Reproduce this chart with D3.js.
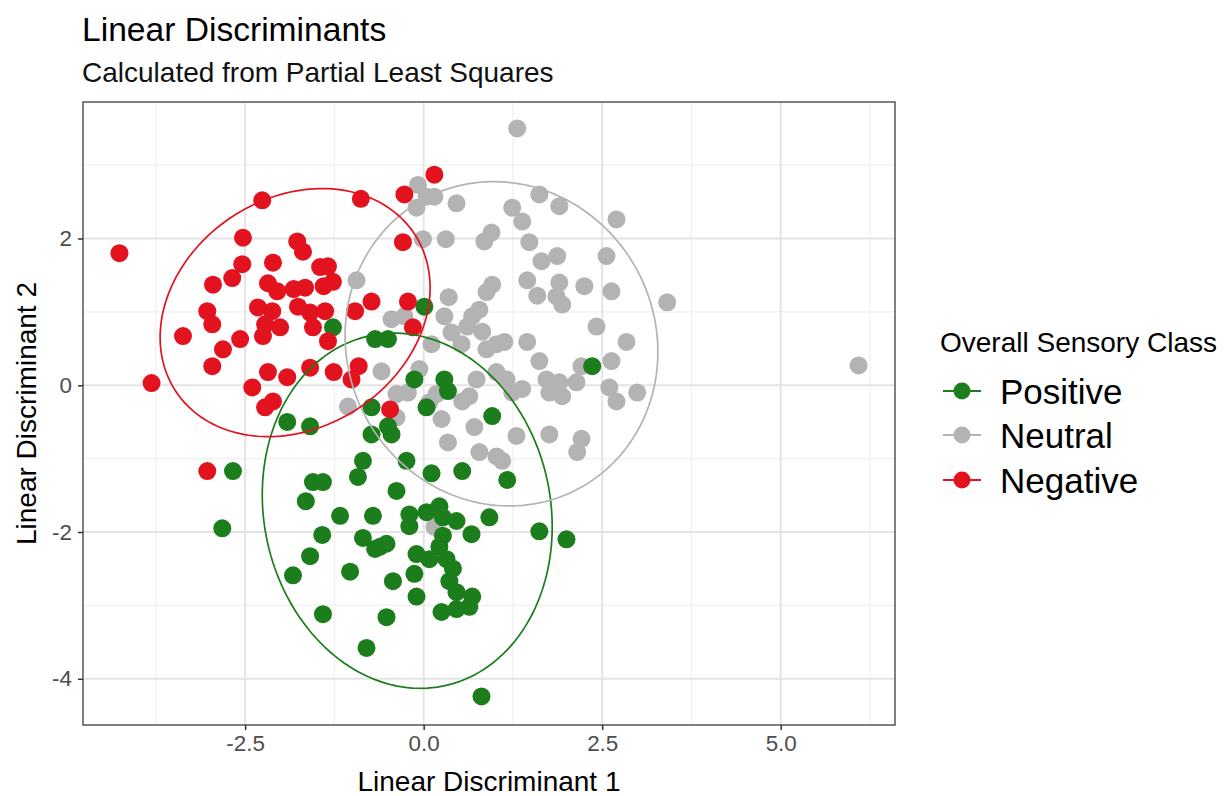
<!DOCTYPE html>
<html>
<head>
<meta charset="utf-8">
<script src="https://cdn.jsdelivr.net/npm/d3@7"></script>
<style>
body { margin: 0; background: #fff; }
text { font-family: "Liberation Sans", Arial, sans-serif; }
</style>
</head>
<body>
<div id="chart"></div>
<script>
var classes = ["Positive", "Neutral", "Negative"];
var classColors = ["#1b7d1b", "#b3b3b3", "#e3121f"];

var positiveX = [-1.27,-0.68,-0.50,0.01,-1.91,-1.59,-0.73,-0.73,-0.85,-2.67,
  -0.13,0.29,0.34,0.04,-0.50,-0.45,0.96,2.36,-0.24,-0.92,
  0.11,0.54,1.17,-2.82,-1.41,-1.55,-1.65,-1.17,-0.71,-1.42,
  -0.85,-0.68,-1.59,-1.83,-1.03,-1.41,-0.80,-0.38,-0.20,-0.20,
  0.04,0.22,0.27,0.46,0.92,0.67,1.62,2.00,-0.61,-0.52,
  0.27,0.22,-0.10,0.08,0.32,-0.13,-0.43,0.41,0.36,0.46,
  0.68,0.64,0.46,0.25,-0.10,-0.52,0.81];
var positiveY = [0.79,0.63,0.63,1.07,-0.50,-0.56,-0.30,-0.67,-1.03,-1.17,
  0.08,0.08,-0.08,-0.30,-0.56,-0.67,-0.42,0.26,-1.03,-1.25,
  -1.20,-1.17,-1.29,-1.95,-1.32,-1.32,-1.58,-1.78,-1.78,-2.04,
  -2.08,-2.23,-2.33,-2.59,-2.54,-3.12,-3.58,-1.44,-1.76,-1.92,
  -1.73,-1.65,-1.80,-1.85,-1.80,-2.03,-1.99,-2.10,-2.20,-2.16,
  -2.05,-2.20,-2.30,-2.37,-2.37,-2.57,-2.67,-2.50,-2.67,-2.82,
  -2.88,-3.02,-3.05,-3.09,-2.88,-3.16,-4.24];

var neutralX = [1.31,-0.08,0.04,0.15,-0.10,0.46,1.62,1.90,2.70,1.24,
  1.38,-0.01,0.31,0.85,0.95,1.48,1.65,1.87,2.56,-0.94,
  1.45,1.90,2.25,2.63,0.96,0.88,0.35,1.59,3.41,1.86,
  1.94,0.29,0.68,0.78,0.61,0.82,0.39,0.53,-0.45,-0.27,
  0.11,0.88,1.02,1.13,1.45,2.42,2.84,1.62,2.21,2.63,
  -0.06,-0.59,0.74,1.02,1.16,1.24,1.38,1.72,1.90,1.94,
  1.76,2.14,2.60,2.70,2.99,6.09,-0.38,-0.22,-1.06,0.18,
  0.08,0.64,0.54,0.25,0.34,0.71,0.78,1.30,1.76,2.21,
  2.15,1.02,1.10,-0.38,0.15];
var neutralY = [3.50,2.73,2.57,2.57,2.42,2.48,2.60,2.44,2.26,2.42,
  2.23,1.99,1.99,1.96,2.08,1.95,1.69,1.76,1.76,1.43,
  1.43,1.40,1.35,1.28,1.37,1.27,1.20,1.22,1.13,1.21,
  1.10,0.94,0.94,1.03,0.80,0.73,0.72,0.56,0.90,0.94,
  0.56,0.49,0.56,0.59,0.59,0.80,0.59,0.33,0.26,0.33,
  0.22,0.19,0.08,0.18,0.08,-0.10,-0.05,0.08,0.04,-0.15,
  -0.10,0.04,-0.03,-0.22,-0.10,0.27,-0.12,-0.10,-0.29,-0.12,
  -0.23,-0.15,-0.22,-0.46,-0.78,-0.57,-0.91,-0.69,-0.67,-0.73,
  -0.91,-0.97,-1.03,-0.44,-1.93];

var negativeX = [-4.26,-2.26,-0.88,-2.53,-1.77,-1.69,-2.54,-2.68,-2.95,-2.11,
  -2.18,-2.05,-1.45,-1.34,-1.27,-1.40,-1.66,-1.82,-0.73,0.15,
  -0.27,-0.29,-0.22,-0.15,-3.03,-2.96,-3.37,-2.81,-2.57,-2.96,
  -2.32,-2.12,-2.22,-2.01,-2.25,-1.76,-1.59,-1.38,-1.55,-1.34,
  -0.96,-2.18,-1.91,-1.59,-1.26,-0.91,-1.01,-2.40,-2.11,-2.22,
  -0.47,-3.81,-3.03];
var negativeY = [1.80,2.52,2.54,2.01,1.96,1.82,1.65,1.46,1.37,1.67,
  1.39,1.28,1.61,1.62,1.41,1.35,1.33,1.31,1.14,2.87,
  2.60,1.95,1.14,0.79,1.01,0.83,0.67,0.49,0.63,0.26,
  1.06,1.01,0.83,0.79,0.67,1.07,0.99,1.01,0.79,0.60,
  1.01,0.18,0.11,0.24,0.18,0.26,0.08,-0.03,-0.22,-0.30,
  -0.33,0.03,-1.17];

// ellipse per class: centre, half extent along each axis, correlation
var ellipseCx = [-0.23, 1.09, -1.80];
var ellipseCy = [-1.71, 0.565, 0.99];
var ellipseHx = [2.03, 2.19, 1.89];
var ellipseHy = [2.42, 2.21, 1.69];
var ellipseRho = [-0.09, -0.05, 0.20];

var xTicks = [-2.5, 0, 2.5, 5];
var yTicks = [2, 0, -2, -4];
var xMinor = [-3.75, -1.25, 1.25, 3.75, 6.25];
var yMinor = [3, 1, -1, -3];

var width = 1225, height = 796;
var panel = {left: 83, top: 102, right: 895, bottom: 725};
var baseSize = 28;

var svg = d3.select("#chart").append("svg")
    .attr("width", width).attr("height", height)
    .style("background", "#fff");

var x = d3.scaleLinear().domain([-4.77, 6.6]).range([panel.left, panel.right]);
var y = d3.scaleLinear().domain([-4.63, 3.86]).range([panel.bottom, panel.top]);

// titles
svg.append("text").attr("x", 82).attr("y", 41)
    .attr("font-size", baseSize * 1.2).attr("fill", "#000").text("Linear Discriminants");
svg.append("text").attr("x", 82).attr("y", 82)
    .attr("font-size", baseSize).attr("fill", "#111").text("Calculated from Partial Least Squares");

// grid
var grid = svg.append("g");
grid.selectAll(".minx").data(xMinor).enter().append("line")
    .attr("x1", d => x(d)).attr("x2", d => x(d))
    .attr("y1", panel.top).attr("y2", panel.bottom)
    .attr("stroke", "#f0f0f0").attr("stroke-width", 1.2);
grid.selectAll(".miny").data(yMinor).enter().append("line")
    .attr("y1", d => y(d)).attr("y2", d => y(d))
    .attr("x1", panel.left).attr("x2", panel.right)
    .attr("stroke", "#f0f0f0").attr("stroke-width", 1.2);
grid.selectAll(".majx").data(xTicks).enter().append("line")
    .attr("x1", d => x(d)).attr("x2", d => x(d))
    .attr("y1", panel.top).attr("y2", panel.bottom)
    .attr("stroke", "#e4e4e4").attr("stroke-width", 2);
grid.selectAll(".majy").data(yTicks).enter().append("line")
    .attr("y1", d => y(d)).attr("y2", d => y(d))
    .attr("x1", panel.left).attr("x2", panel.right)
    .attr("stroke", "#e4e4e4").attr("stroke-width", 2);

// points
var series = [
    {name: classes[0], color: classColors[0], xs: positiveX, ys: positiveY},
    {name: classes[1], color: classColors[1], xs: neutralX, ys: neutralY},
    {name: classes[2], color: classColors[2], xs: negativeX, ys: negativeY}
];
var drawOrder = [1, 0, 2];
drawOrder.forEach(function(i) {
    var s = series[i];
    svg.append("g").selectAll("circle").data(s.xs).enter().append("circle")
        .attr("cx", d => x(d))
        .attr("cy", (d, j) => y(s.ys[j]))
        .attr("r", 9)
        .attr("fill", s.color);
});

// ellipses
var line = d3.line().x(d => x(d[0])).y(d => y(d[1])).curve(d3.curveLinearClosed);
series.forEach(function(s, i) {
    var phi = Math.acos(ellipseRho[i]);
    var pts = d3.range(0, 2 * Math.PI, Math.PI / 90).map(function(t) {
        return [ellipseCx[i] + ellipseHx[i] * Math.cos(t),
                ellipseCy[i] + ellipseHy[i] * Math.cos(t - phi)];
    });
    svg.append("path").attr("d", line(pts))
        .attr("fill", "none").attr("stroke", s.color).attr("stroke-width", 1.7);
});

// panel border
svg.append("rect")
    .attr("x", panel.left).attr("y", panel.top)
    .attr("width", panel.right - panel.left).attr("height", panel.bottom - panel.top)
    .attr("fill", "none").attr("stroke", "#555").attr("stroke-width", 1.5);

// axes
var fmtX = d => d3.format(".1f")(d).replace("\u2212", "-");
var fmtY = d => String(d);
var xAxis = svg.append("g").attr("transform", "translate(0," + panel.bottom + ")")
    .call(d3.axisBottom(x).tickValues(xTicks).tickSize(5).tickPadding(5).tickFormat(fmtX));
var yAxis = svg.append("g").attr("transform", "translate(" + panel.left + ",0)")
    .call(d3.axisLeft(y).tickValues(yTicks).tickSize(5).tickPadding(6).tickFormat(fmtY));
[xAxis, yAxis].forEach(function(a) {
    a.select(".domain").remove();
    a.selectAll(".tick line").attr("stroke", "#333").attr("stroke-width", 1.5);
    a.selectAll(".tick text").attr("fill", "#4d4d4d").attr("font-size", baseSize * 0.8)
        .attr("font-family", "Liberation Sans, Arial, sans-serif");
});

svg.append("text").attr("x", (panel.left + panel.right) / 2).attr("y", 791)
    .attr("text-anchor", "middle").attr("font-size", baseSize).text("Linear Discriminant 1");
svg.append("text")
    .attr("transform", "translate(36," + (panel.top + panel.bottom) / 2 + ") rotate(-90)")
    .attr("text-anchor", "middle").attr("font-size", baseSize).text("Linear Discriminant 2");

// legend
var legend = svg.append("g");
legend.append("text").attr("x", 940).attr("y", 352).attr("font-size", baseSize).text("Overall Sensory Class");
var keyY = [391, 435, 480];
series.forEach(function(s, i) {
    var g = legend.append("g");
    g.append("line").attr("x1", 943).attr("x2", 981).attr("y1", keyY[i]).attr("y2", keyY[i])
        .attr("stroke", s.color).attr("stroke-width", 2);
    g.append("circle").attr("cx", 962).attr("cy", keyY[i]).attr("r", 8.5).attr("fill", s.color);
    g.append("text").attr("x", 1000).attr("y", keyY[i]).attr("dy", "0.36em")
        .attr("font-size", 35).text(s.name);
});
</script>
</body>
</html>
